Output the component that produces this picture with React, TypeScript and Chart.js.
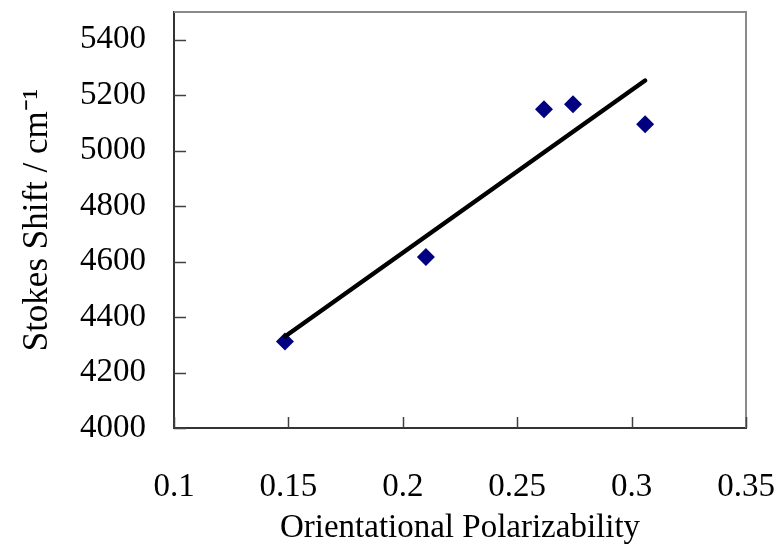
import { useEffect, useRef } from "react";
import { Chart, registerables } from "chart.js";

Chart.register(...registerables);

// Data
const POLARIZABILITY = [0.1485, 0.2101, 0.2617, 0.2744, 0.3059];
const STOKES_SHIFT = [4312, 4617, 5149, 5167, 5095];
const FIT_X = [0.1485, 0.3059];
const FIT_Y = [4330, 5253];
const X_TICKS = [0.1, 0.15, 0.2, 0.25, 0.3, 0.35];
const Y_TICKS = [4000, 4200, 4400, 4600, 4800, 5000, 5200, 5400];
const X_RANGE = [0.1, 0.35];
const Y_RANGE = [4000, 5500];
const X_TITLE = "Orientational Polarizability";
const Y_TITLE = "Stokes Shift / cm\u207B\u00B9";

const FONT = "'Liberation Serif', 'Times New Roman', serif";

const frame = {
  id: "frame",
  afterDatasetsDraw(chart: any) {
    const { ctx, chartArea } = chart;
    const xs = chart.scales.x;
    const ys = chart.scales.y;
    ctx.save();
    // top and right frame lines
    ctx.strokeStyle = "#8a8a8a";
    ctx.lineWidth = 2;
    ctx.beginPath();
    ctx.moveTo(chartArea.left, chartArea.top);
    ctx.lineTo(chartArea.right, chartArea.top);
    ctx.lineTo(chartArea.right, chartArea.bottom);
    ctx.stroke();
    // inward tick marks
    ctx.strokeStyle = "#404040";
    ctx.lineWidth = 1.5;
    ctx.beginPath();
    for (const v of X_TICKS) {
      const px = Math.round(xs.getPixelForValue(v)) + 0.5;
      ctx.moveTo(px, chartArea.bottom);
      ctx.lineTo(px, chartArea.bottom - 11);
    }
    for (const v of Y_TICKS) {
      const py = Math.round(ys.getPixelForValue(v)) + 0.5;
      ctx.moveTo(chartArea.left, py);
      ctx.lineTo(chartArea.left + 12, py);
    }
    ctx.stroke();
    ctx.restore();
  },
};

export default function App() {
  const ref = useRef<HTMLCanvasElement | null>(null);

  useEffect(() => {
    if (!ref.current) return;
    const chart = new Chart(ref.current, {
      type: "scatter",
      data: {
        datasets: [
          {
            label: "fit",
            data: FIT_X.map((x, i) => ({ x, y: FIT_Y[i] })),
            showLine: true,
            borderColor: "#000000",
            borderWidth: 4.5,
            borderCapStyle: "round",
            pointRadius: 0,
            order: 0,
          },
          {
            label: "data",
            data: POLARIZABILITY.map((x, i) => ({ x, y: STOKES_SHIFT[i] })),
            pointStyle: "rectRot",
            pointRadius: 9,
            backgroundColor: "#000080",
            borderColor: "#000080",
            borderWidth: 0,
            order: 1,
          },
        ],
      },
      options: {
        animation: false,
        responsive: true,
        maintainAspectRatio: false,
        layout: { padding: { left: 0, right: 38, top: 12, bottom: 0 } },
        plugins: {
          legend: { display: false },
          tooltip: { enabled: false },
        },
        scales: {
          x: {
            type: "linear",
            min: X_RANGE[0],
            max: X_RANGE[1],
            afterBuildTicks: (s: any) => {
              s.ticks = X_TICKS.map((value) => ({ value }));
            },
            afterFit: (s: any) => {
              s.height = 126;
              s.paddingLeft = 0;
              s.paddingRight = 0;
              s.paddingTop = 0;
              s.paddingBottom = 0;
            },
            grid: { display: false, drawTicks: false },
            border: { display: true, color: "#333333", width: 2 },
            ticks: {
              padding: 40,
              color: "#000000",
              font: { family: FONT, size: 33 },
              callback: (v: any) => String(v),
            },
            title: {
              display: true,
              text: X_TITLE,
              color: "#000000",
              font: { family: FONT, size: 33 },
              padding: { top: 0, bottom: 6 },
            },
          },
          y: {
            type: "linear",
            min: Y_RANGE[0],
            max: Y_RANGE[1],
            afterBuildTicks: (s: any) => {
              s.ticks = Y_TICKS.map((value) => ({ value }));
            },
            afterFit: (s: any) => {
              s.width = 174;
              s.paddingLeft = 0;
              s.paddingRight = 0;
              s.paddingTop = 0;
              s.paddingBottom = 0;
            },
            grid: { display: false, drawTicks: false },
            border: { display: true, color: "#333333", width: 2 },
            ticks: {
              padding: 28,
              color: "#000000",
              font: { family: FONT, size: 33 },
              callback: (v: any) => String(v),
            },
            title: {
              display: true,
              text: Y_TITLE,
              color: "#000000",
              font: { family: FONT, size: 35 },
              padding: { top: 17, bottom: 0 },
            },
          },
        },
      },
      plugins: [frame],
    });
    return () => chart.destroy();
  }, []);

  return (
    <div style={{ position: "absolute", left: 0, top: 0, width: 784, height: 554, background: "#ffffff" }}>
      <canvas ref={ref} />
    </div>
  );
}
